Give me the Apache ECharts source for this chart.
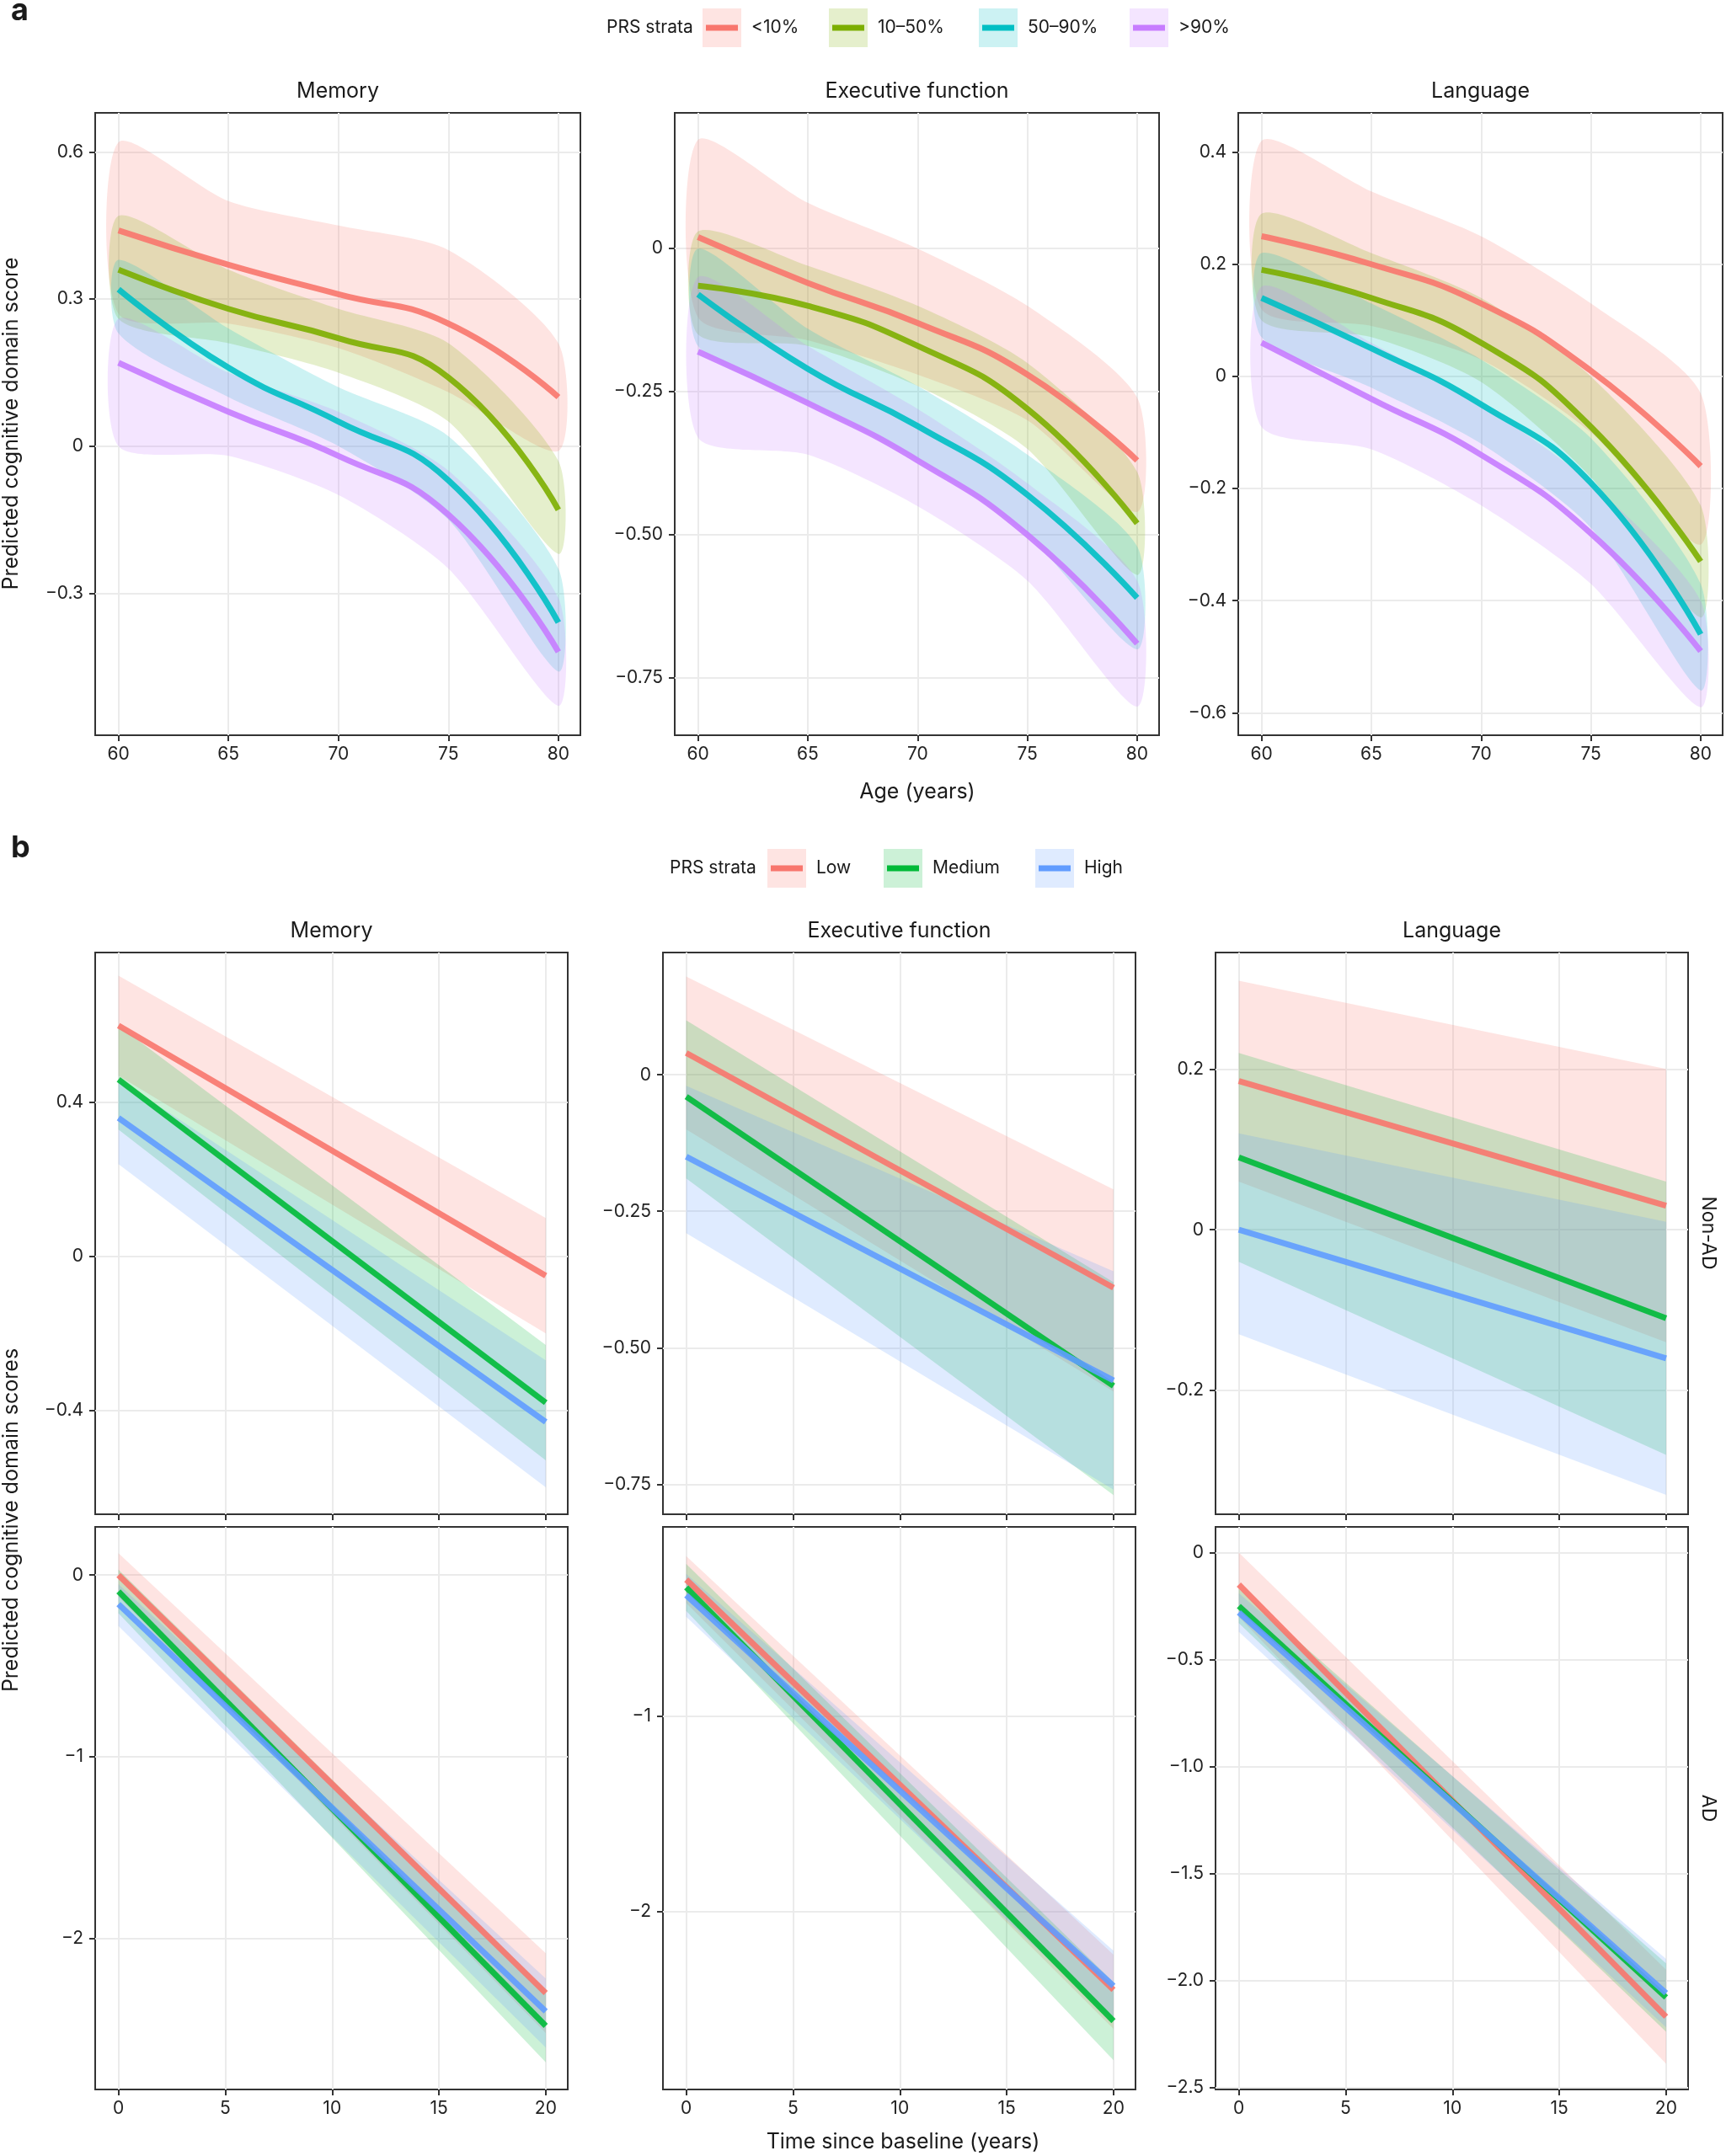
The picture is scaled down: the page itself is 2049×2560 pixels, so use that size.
<!DOCTYPE html>
<html><head><meta charset="utf-8">
<script src="https://cdn.jsdelivr.net/npm/echarts@6/dist/echarts.min.js"></script>
<style>body{margin:0;background:#fff}#main{width:2049px;height:2560px}</style>
</head><body><div id="main"></div>
<script>
// ---- data ----
var ageX = [60, 65, 70, 75, 80];
var timeX = [0, 20];
var strataA = ['<10%', '10–50%', '50–90%', '>90%'];
var strataB = ['Low', 'Medium', 'High'];
var colorsA = ['#F8766D', '#7CAE00', '#00BFC4', '#C77CFF'];
var colorsB = ['#F8766D', '#00BA38', '#619CFF'];

// panel a: [fit, upper, lower] per stratum
var memA = [
  [[0.44, 0.37, 0.31, 0.25, 0.10], [0.62, 0.50, 0.45, 0.40, 0.21], [0.27, 0.25, 0.20, 0.11, -0.01]],
  [[0.36, 0.28, 0.22, 0.14, -0.13], [0.47, 0.36, 0.28, 0.21, -0.03], [0.26, 0.21, 0.15, 0.05, -0.22]],
  [[0.32, 0.16, 0.05, -0.07, -0.36], [0.38, 0.24, 0.12, 0.02, -0.25], [0.23, 0.10, 0.0, -0.15, -0.46]],
  [[0.17, 0.07, -0.02, -0.14, -0.42], [0.26, 0.15, 0.07, -0.05, -0.31], [0.0, -0.02, -0.10, -0.25, -0.53]]
];
var exeA = [
  [[0.02, -0.06, -0.13, -0.22, -0.37], [0.19, 0.08, 0.0, -0.10, -0.26], [-0.12, -0.16, -0.22, -0.30, -0.46]],
  [[-0.065, -0.10, -0.17, -0.28, -0.48], [0.03, -0.03, -0.10, -0.20, -0.39], [-0.15, -0.17, -0.24, -0.35, -0.57]],
  [[-0.08, -0.21, -0.31, -0.43, -0.61], [0.0, -0.14, -0.24, -0.36, -0.52], [-0.17, -0.27, -0.37, -0.50, -0.70]],
  [[-0.18, -0.27, -0.37, -0.50, -0.69], [-0.05, -0.17, -0.28, -0.41, -0.58], [-0.33, -0.36, -0.45, -0.58, -0.80]]
];
var lanA = [
  [[0.25, 0.20, 0.13, 0.01, -0.16], [0.42, 0.33, 0.25, 0.13, -0.03], [0.12, 0.09, 0.03, -0.10, -0.30]],
  [[0.19, 0.14, 0.06, -0.09, -0.33], [0.29, 0.22, 0.14, 0.0, -0.23], [0.10, 0.07, -0.01, -0.18, -0.43]],
  [[0.14, 0.05, -0.05, -0.19, -0.46], [0.22, 0.13, 0.03, -0.11, -0.37], [0.07, -0.02, -0.12, -0.27, -0.56]],
  [[0.06, -0.04, -0.14, -0.28, -0.49], [0.16, 0.06, -0.05, -0.19, -0.40], [-0.09, -0.13, -0.23, -0.37, -0.59]]
];
// panel b: [fit, upper, lower] at time 0 and 20
var memNon = [[[0.60, -0.05], [0.73, 0.10], [0.47, -0.20]], [[0.46, -0.38], [0.60, -0.23], [0.33, -0.53]], [[0.36, -0.43], [0.46, -0.27], [0.24, -0.60]]];
var exeNon = [[[0.04, -0.39], [0.18, -0.21], [-0.10, -0.58]], [[-0.04, -0.57], [0.10, -0.38], [-0.19, -0.77]], [[-0.15, -0.56], [-0.02, -0.36], [-0.29, -0.76]]];
var lanNon = [[[0.185, 0.03], [0.31, 0.20], [0.06, -0.14]], [[0.09, -0.11], [0.22, 0.06], [-0.04, -0.28]], [[0.0, -0.16], [0.12, 0.01], [-0.13, -0.33]]];
var memAD = [[[0.0, -2.30], [0.12, -2.08], [-0.12, -2.52]], [[-0.09, -2.48], [0.03, -2.28], [-0.21, -2.68]], [[-0.16, -2.40], [-0.05, -2.22], [-0.28, -2.60]]];
var exeAD = [[[-0.30, -2.40], [-0.18, -2.22], [-0.42, -2.60]], [[-0.34, -2.56], [-0.22, -2.36], [-0.46, -2.76]], [[-0.38, -2.38], [-0.27, -2.20], [-0.49, -2.56]]];
var lanAD = [[[-0.15, -2.17], [0.0, -1.95], [-0.30, -2.39]], [[-0.25, -2.08], [-0.17, -1.92], [-0.33, -2.24]], [[-0.28, -2.06], [-0.19, -1.90], [-0.37, -2.22]]];

var ageTicks = [60, 65, 70, 75, 80];
var timeTicks = [0, 5, 10, 15, 20];
var yTicksMemA = [-0.3, 0, 0.3, 0.6];
var yTicksExeA = [-0.75, -0.5, -0.25, 0];
var yTicksLanA = [-0.6, -0.4, -0.2, 0, 0.2, 0.4];
var yTicksMemNon = [-0.4, 0, 0.4];
var yTicksExeNon = [-0.75, -0.5, -0.25, 0];
var yTicksLanNon = [-0.2, 0, 0.2];
var yTicksMemAD = [-2, -1, 0];
var yTicksExeAD = [-2, -1];
var yTicksLanAD = [-2.5, -2, -1.5, -1, -0.5, 0];

// ---- layout ----
var panels = [
  {box: [113, 134, 576, 739], xs: ageX, xr: [58.94, 81.0], xt: ageTicks, yr: [-0.59, 0.68], yt: yTicksMemA, dec: 1, d: memA, c: colorsA, smooth: true},
  {box: [801, 134, 575, 739], xs: ageX, xr: [58.94, 81.0], xt: ageTicks, yr: [-0.85, 0.237], yt: yTicksExeA, dec: 2, d: exeA, c: colorsA, smooth: true},
  {box: [1470, 134, 575, 739], xs: ageX, xr: [58.94, 81.0], xt: ageTicks, yr: [-0.64, 0.47], yt: yTicksLanA, dec: 1, d: lanA, c: colorsA, smooth: true},
  {box: [113, 1131, 561, 667], xs: timeX, xr: [-1.09, 21.03], xt: timeTicks, yr: [-0.67, 0.79], yt: yTicksMemNon, dec: 1, d: memNon, c: colorsB, noX: true},
  {box: [787, 1131, 561, 667], xs: timeX, xr: [-1.09, 21.03], xt: timeTicks, yr: [-0.805, 0.224], yt: yTicksExeNon, dec: 2, d: exeNon, c: colorsB, noX: true},
  {box: [1443, 1131, 561, 667], xs: timeX, xr: [-1.09, 21.03], xt: timeTicks, yr: [-0.354, 0.345], yt: yTicksLanNon, dec: 1, d: lanNon, c: colorsB, noX: true},
  {box: [113, 1813, 561, 668], xs: timeX, xr: [-1.09, 21.03], xt: timeTicks, yr: [-2.83, 0.265], yt: yTicksMemAD, dec: 0, d: memAD, c: colorsB},
  {box: [787, 1813, 561, 668], xs: timeX, xr: [-1.09, 21.03], xt: timeTicks, yr: [-2.91, -0.03], yt: yTicksExeAD, dec: 0, d: exeAD, c: colorsB},
  {box: [1443, 1813, 561, 668], xs: timeX, xr: [-1.09, 21.03], xt: timeTicks, yr: [-2.51, 0.12], yt: yTicksLanAD, dec: 1, d: lanAD, c: colorsB}
];

var FONT = 'Inter';
var grids = [], xAxes = [], yAxes = [], series = [], graphics = [];
var gridLine = {show: true, lineStyle: {color: '#ebebeb', width: 2}};

function fmtDec(dec) {
  return function (v) { return Math.abs(v) < 1e-9 ? '0' : v.toFixed(dec).replace('-', '−'); };
}

// band polygon through the axes' scales
function bandSeries(i, xs, up, lo, color, smooth) {
  return {
    type: 'custom', xAxisIndex: i, yAxisIndex: i, silent: true, z: 2,
    data: xs.map(function (x, j) { return [x, lo[j], up[j]]; }),
    renderItem: function (params, api) {
      if (params.dataIndex !== 0) return null;
      var top = xs.map(function (x, j) { return api.coord([x, up[j]]); });
      var bot = xs.map(function (x, j) { return api.coord([x, lo[j]]); }).reverse();
      return {type: 'polygon', shape: {points: top.concat(bot), smooth: smooth ? 0.25 : 0},
        style: {fill: color, opacity: 0.2}};
    }
  };
}

panels.forEach(function (p, i) {
  grids.push({left: p.box[0], top: p.box[1], width: p.box[2], height: p.box[3],
    show: true, borderColor: '#333', borderWidth: 2, backgroundColor: '#fff'});
  xAxes.push({type: 'value', gridIndex: i, min: p.xr[0], max: p.xr[1],
    axisLine: {show: false, onZero: false}, splitLine: gridLine,
    axisTick: {show: true, customValues: p.xt, length: 7, lineStyle: {color: '#333', width: 2}},
    axisLabel: {show: !p.noX, customValues: p.xt, color: '#222', fontSize: 21, fontFamily: FONT, margin: 12}});
  yAxes.push({type: 'value', gridIndex: i, min: p.yr[0], max: p.yr[1],
    axisLine: {show: false, onZero: false}, splitLine: gridLine,
    axisTick: {show: true, customValues: p.yt, length: 7, lineStyle: {color: '#333', width: 2}},
    axisLabel: {customValues: p.yt, color: '#222', fontSize: 21, fontFamily: FONT, margin: 14, formatter: fmtDec(p.dec)}});
  p.d.forEach(function (s, k) {
    series.push(bandSeries(i, p.xs, s[1], s[2], p.c[k], p.smooth));
  });
  p.d.forEach(function (s, k) {
    series.push({type: 'line', xAxisIndex: i, yAxisIndex: i, symbol: 'none', smooth: !!p.smooth, z: 5,
      lineStyle: {color: p.c[k], width: 7, opacity: 0.9}, data: p.xs.map(function (x, j) { return [x, s[0][j]]; })});
  });
});

function txt(x, y, s, o) {
  o = o || {};
  graphics.push({type: 'text', x: x, y: y, rotation: o.rot || 0, z: 10,
    style: {text: s, fill: '#1a1a1a', font: (o.weight || 'normal') + ' ' + (o.size || 25) + 'px ' + FONT,
      textAlign: o.align || 'center', textVerticalAlign: 'middle'}});
}
function legend(y, labelX, keysX, names, cols) {
  txt(labelX, y, 'PRS strata', {size: 21, align: 'left'});
  names.forEach(function (n, k) {
    var x = keysX[k];
    graphics.push({type: 'rect', shape: {x: x, y: y - 23, width: 46, height: 46}, style: {fill: cols[k], opacity: 0.2}});
    graphics.push({type: 'line', shape: {x1: x + 4, y1: y, x2: x + 42, y2: y}, style: {stroke: cols[k], lineWidth: 7}});
    txt(x + 58, y, n, {size: 21, align: 'left'});
  });
}

txt(13, 13, 'a', {size: 36, weight: 'bold', align: 'left'});
txt(13, 1007, 'b', {size: 36, weight: 'bold', align: 'left'});
legend(33, 720, [834, 984, 1162, 1341], strataA, colorsA);
legend(1031, 795, [911, 1049, 1229], strataB, colorsB);
['Memory', 'Executive function', 'Language'].forEach(function (t, k) {
  txt(panels[k].box[0] + panels[k].box[2] / 2, 108, t);
  txt(panels[k + 3].box[0] + panels[k + 3].box[2] / 2, 1105, t);
});
txt(13, 503, 'Predicted cognitive domain score', {rot: Math.PI / 2});
txt(13, 1805, 'Predicted cognitive domain scores', {rot: Math.PI / 2});
txt(1089, 940, 'Age (years)');
txt(1072, 2543, 'Time since baseline (years)');
txt(2028, 1464, 'Non-AD', {rot: -Math.PI / 2, size: 23});
txt(2028, 2147, 'AD', {rot: -Math.PI / 2, size: 23});

var chart = echarts.init(document.getElementById('main'));
chart.setOption({
  animation: false,
  backgroundColor: '#fff',
  grid: grids, xAxis: xAxes, yAxis: yAxes, series: series, graphic: graphics
});
</script>
</body></html>
